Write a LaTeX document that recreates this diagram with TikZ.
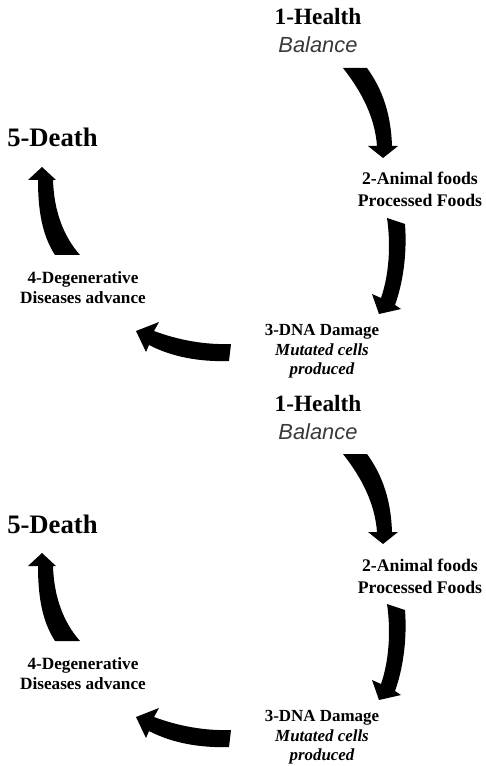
\documentclass[tikz,border=0pt]{standalone}
\usepackage{fontspec}
\setmainfont{Liberation Serif}
\newfontfamily\balfont{Liberation Sans}
\definecolor{balgray}{HTML}{3A3A3A}
\newcommand{\cyclediagram}{%
  % labels
  \node[lbl, font=\fontsize{17.5}{20}\selectfont\bfseries] (health) at (318,25) {1-Health};
  \node[lbl, font=\balfont\fontsize{16.4}{19}\selectfont\itshape, text=balgray] (balance) at (318,53) {Balance};
  \node[lbl, font=\fontsize{13.3}{16}\selectfont\bfseries] (animal) at (420,185) {2-Animal foods};
  \node[lbl, font=\fontsize{13.3}{16}\selectfont\bfseries] (processed) at (420,207) {Processed Foods};
  \node[lbl, font=\fontsize{12.7}{15}\selectfont\bfseries] (dna) at (322,335) {3-DNA Damage};
  \node[lbl, font=\fontsize{12.7}{15}\selectfont\bfseries\itshape] (mutated) at (322,355) {Mutated cells};
  \node[lbl, font=\fontsize{12.7}{15}\selectfont\bfseries\itshape] (produced) at (322,374) {produced};
  \node[lbl, font=\fontsize{12.9}{15}\selectfont\bfseries] (degen) at (83,283) {4-Degenerative};
  \node[lbl, font=\fontsize{12.9}{15}\selectfont\bfseries] (diseases) at (83,303) {Diseases advance};
  \node[lbl, anchor=base west, font=\fontsize{20}{24}\selectfont\bfseries] (death) at (7,147) {5-Death};
  % arrow 1: Health -> Animal foods
  \fill[bigarrow] (343,68) -- (367,68) .. controls (383,90) and (391,115) .. (392,146)
     -- (398,146) -- (383,158) -- (368,146) -- (377,146)
     .. controls (375,118) and (362,92) .. (343,68) -- cycle;
  % arrow 2: Processed foods -> DNA damage
  \fill[bigarrow] (387,218) -- (405,224) .. controls (407,250) and (404,280) .. (395,305)
     -- (401,309) -- (379,314) -- (372,294) -- (381,298)
     .. controls (389,275) and (391,245) .. (387,218) -- cycle;
  % arrow 3: DNA damage -> Degenerative
  \fill[bigarrow] (231,344) -- (229,361) .. controls (200,362) and (172,357) .. (149,345)
     -- (146,352) -- (136,331) -- (159,322) -- (154,331)
     .. controls (178,340) and (205,345) .. (231,344) -- cycle;
  % arrow 4: Degenerative -> Death
  \fill[bigarrow] (55,255) -- (80,255) .. controls (64,237) and (54,212) .. (53,180)
     -- (56,180) -- (42,167) -- (28,180) -- (38,180)
     .. controls (38,210) and (42,235) .. (55,255) -- cycle;
}
\begin{document}
\begin{tikzpicture}[x=0.75pt, y=-0.75pt,
  lbl/.style={anchor=base, inner sep=0pt, text=black},
  bigarrow/.style={black}]
  \useasboundingbox[fill=white] (0,0) rectangle (485,766);
  \begin{scope}[name prefix=a-]
    \cyclediagram
  \end{scope}
  \begin{scope}[shift={(0,386)}, name prefix=b-]
    \cyclediagram
  \end{scope}
\end{tikzpicture}
\end{document}
